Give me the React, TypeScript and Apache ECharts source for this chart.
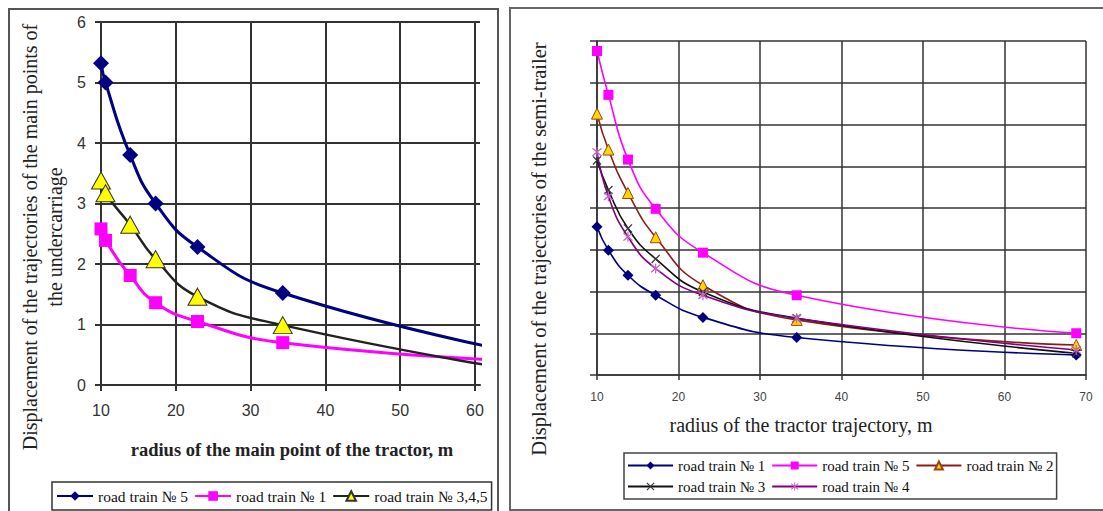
import React, { useEffect, useRef } from 'react';
import * as echarts from 'echarts';

// ---------- Left chart data ----------
const LEFT_RADIUS = [10, 10.6, 13.9, 17.3, 22.9, 34.3, 68.8];
const LEFT_TRAIN5 = [5.32, 5.0, 3.8, 3.0, 2.28, 1.52, 0.46];
const LEFT_TRAIN1 = [2.58, 2.39, 1.81, 1.36, 1.05, 0.7, 0.38];
const LEFT_TRAIN345 = [3.38, 3.17, 2.65, 2.08, 1.46, 0.99, 0.18];
const LEFT_X_TICKS = [10, 20, 30, 40, 50, 60];
const LEFT_NAMES = ['road train № 5', 'road train № 1', 'road train № 3,4,5'];

// ---------- Right chart data ----------
const RIGHT_RADIUS = [10, 11.4, 13.8, 17.2, 23, 34.5, 68.8];
const RIGHT_TRAIN1 = [3.55, 2.99, 2.39, 1.91, 1.38, 0.9, 0.48];
const RIGHT_TRAIN5 = [7.76, 6.71, 5.16, 3.98, 2.93, 1.91, 1.0];
const RIGHT_TRAIN2 = [6.26, 5.4, 4.36, 3.3, 2.15, 1.32, 0.72];
const RIGHT_TRAIN3 = [5.14, 4.43, 3.51, 2.78, 1.99, 1.36, 0.52];
const RIGHT_TRAIN4 = [5.34, 4.28, 3.31, 2.55, 1.91, 1.36, 0.6];
const RIGHT_X_TICKS = [10, 20, 30, 40, 50, 60, 70];
const RIGHT_NAMES = ['road train № 1', 'road train № 5', 'road train № 2', 'road train № 3', 'road train № 4'];

const SERIF = 'Liberation Serif, Times New Roman, serif';
const SANS = 'Liberation Sans, Arial, sans-serif';

const X_SYMBOL = 'path://M0,1 L1,0 L5,4 L9,0 L10,1 L6,5 L10,9 L9,10 L5,6 L1,10 L0,9 L4,5 Z';
const STAR_SYMBOL = 'path://M0,1 L1,0 L5,4 L9,0 L10,1 L6,5 L10,9 L9,10 L5,6 L1,10 L0,9 L4,5 Z M4.4,-1 L5.6,-1 L5.6,11 L4.4,11 Z';

const pairs = (xs: number[], ys: number[]) => xs.map((x, i) => [x, ys[i]]);

function leftOption(): any {
  const grid = { color: '#333', width: 2 };
  return {
    animation: false,
    grid: { left: 101, top: 22, width: 379, height: 363, outerBoundsMode: 'none' },
    xAxis: {
      type: 'value', min: 10, max: 60.67, interval: 10,
      axisLine: { show: true, onZero: false, lineStyle: grid },
      axisTick: { show: true, length: 6, lineStyle: grid, customValues: LEFT_X_TICKS },
      axisLabel: { customValues: LEFT_X_TICKS, margin: 17, fontSize: 16, color: '#333', fontFamily: SANS },
      splitLine: { show: true, lineStyle: grid },
    },
    yAxis: {
      type: 'value', min: 0, max: 6, interval: 1,
      axisLine: { show: true, lineStyle: grid },
      axisTick: { show: true, length: 6, lineStyle: grid },
      axisLabel: { margin: 15, fontSize: 16, color: '#333', fontFamily: SANS },
      splitLine: { show: true, lineStyle: grid },
    },
    legend: {
      left: 52, top: 482,
      itemWidth: 36, itemHeight: 12, itemGap: 6,
      padding: [6, 4, 6, 4],
      borderColor: '#333', borderWidth: 1.5,
      textStyle: { fontFamily: SERIF, fontSize: 15.5, color: '#111' },
      data: LEFT_NAMES,
    },
    series: [
      {
        name: LEFT_NAMES[0], type: 'line', smooth: 0.5,
        data: pairs(LEFT_RADIUS, LEFT_TRAIN5),
        symbol: 'diamond', symbolSize: 16,
        lineStyle: { color: '#000080', width: 3 },
        itemStyle: { color: '#000080' },
      },
      {
        name: LEFT_NAMES[1], type: 'line', smooth: 0.5,
        data: pairs(LEFT_RADIUS, LEFT_TRAIN1),
        symbol: 'rect', symbolSize: 13,
        lineStyle: { color: '#FF00FF', width: 3 },
        itemStyle: { color: '#FF00FF' },
      },
      {
        name: LEFT_NAMES[2], type: 'line', smooth: 0.5,
        data: pairs(LEFT_RADIUS, LEFT_TRAIN345),
        symbol: 'triangle', symbolSize: [19, 17],
        lineStyle: { color: '#222', width: 2.5 },
        itemStyle: { color: '#FFFF00', borderColor: '#333', borderWidth: 1 },
      },
    ],
    graphic: [
      {
        type: 'text', x: 42, y: 237, rotation: Math.PI / 2,
        style: {
          text: 'Displacement of the trajectories of the main points of\nthe undercarriage',
          font: '20px ' + SERIF, fill: '#222', align: 'center', verticalAlign: 'middle', lineHeight: 25,
        },
      },
      {
        type: 'text', x: 292, y: 450,
        style: {
          text: 'radius of the main point of the tractor, m',
          font: 'bold 18.5px ' + SERIF, fill: '#222', align: 'center', verticalAlign: 'middle',
        },
      },
    ],
  };
}

function rightOption(): any {
  const grid = { color: '#333', width: 1.5 };
  const mk = (name: string, ys: number[], color: string, symbol: string, size: number, itemStyle: any, width = 1.6) => ({
    name, type: 'line', smooth: 0.5,
    data: pairs(RIGHT_RADIUS, ys),
    symbol, symbolSize: size,
    lineStyle: { color, width },
    itemStyle,
  });
  return {
    animation: false,
    grid: { left: 92, top: 41, width: 489, height: 334, outerBoundsMode: 'none' },
    xAxis: {
      type: 'value', min: 10, max: 70, interval: 10,
      axisLine: { show: true, onZero: false, lineStyle: grid },
      axisTick: { show: true, length: 5, lineStyle: grid, customValues: RIGHT_X_TICKS },
      axisLabel: { customValues: RIGHT_X_TICKS, margin: 16, fontSize: 12, color: '#444', fontFamily: SANS },
      splitLine: { show: true, lineStyle: grid },
    },
    yAxis: {
      type: 'value', min: 0, max: 8, interval: 1,
      axisLine: { show: true, lineStyle: grid },
      axisTick: { show: true, length: 7, lineStyle: grid },
      axisLabel: { show: false },
      splitLine: { show: true, lineStyle: grid },
    },
    legend: {
      left: 119, top: 453, width: 432,
      itemWidth: 45, itemHeight: 10, itemGap: 6,
      padding: [5, 3, 5, 3],
      borderColor: '#444', borderWidth: 1.5,
      textStyle: { fontFamily: SERIF, fontSize: 15, color: '#111' },
      data: RIGHT_NAMES,
    },
    series: [
      mk(RIGHT_NAMES[0], RIGHT_TRAIN1, '#000080', 'diamond', 11, { color: '#000080' }),
      mk(RIGHT_NAMES[1], RIGHT_TRAIN5, '#FF00FF', 'rect', 10, { color: '#FF00FF' }),
      mk(RIGHT_NAMES[2], RIGHT_TRAIN2, '#8B1A1A', 'triangle', 11, { color: '#FFD700', borderColor: '#A0401A', borderWidth: 1 }),
      mk(RIGHT_NAMES[3], RIGHT_TRAIN3, '#111111', X_SYMBOL, 9, { color: '#333' }),
      mk(RIGHT_NAMES[4], RIGHT_TRAIN4, '#800080', STAR_SYMBOL, 10, { color: '#C060C0' }),
    ],
    graphic: [
      {
        type: 'text', x: 34, y: 249, rotation: Math.PI / 2,
        style: {
          text: 'Displacement of the trajectories of the semi-trailer',
          font: '20.5px ' + SERIF, fill: '#222', align: 'center', verticalAlign: 'middle',
        },
      },
      {
        type: 'text', x: 296, y: 425,
        style: {
          text: 'radius of the tractor trajectory, m',
          font: '20px ' + SERIF, fill: '#222', align: 'center', verticalAlign: 'middle',
        },
      },
    ],
  };
}

function Chart({ option, style }: { option: any; style: React.CSSProperties }) {
  const ref = useRef<HTMLDivElement>(null);
  useEffect(() => {
    if (!ref.current) return;
    const chart = echarts.init(ref.current, undefined, { renderer: 'svg' });
    chart.setOption(option);
    return () => chart.dispose();
  }, [option]);
  return <div ref={ref} style={style} />;
}

const LEFT_OPT = leftOption();
const RIGHT_OPT = rightOption();

export default function App() {
  return (
    <div style={{ position: 'fixed', left: 0, top: 0, width: 1103, height: 511, background: '#fff', overflow: 'hidden' }}>
      <Chart option={LEFT_OPT} style={{ position: 'absolute', left: 0, top: 0, width: 505, height: 511 }} />
      <Chart option={RIGHT_OPT} style={{ position: 'absolute', left: 505, top: 0, width: 598, height: 511 }} />
      <div style={{ position: 'absolute', left: 8, top: 8, width: 487, height: 540, border: '2px solid #555', pointerEvents: 'none' }} />
      <div style={{ position: 'absolute', left: 509, top: 7, width: 620, height: 500, border: '2px solid #666', pointerEvents: 'none' }} />
    </div>
  );
}
